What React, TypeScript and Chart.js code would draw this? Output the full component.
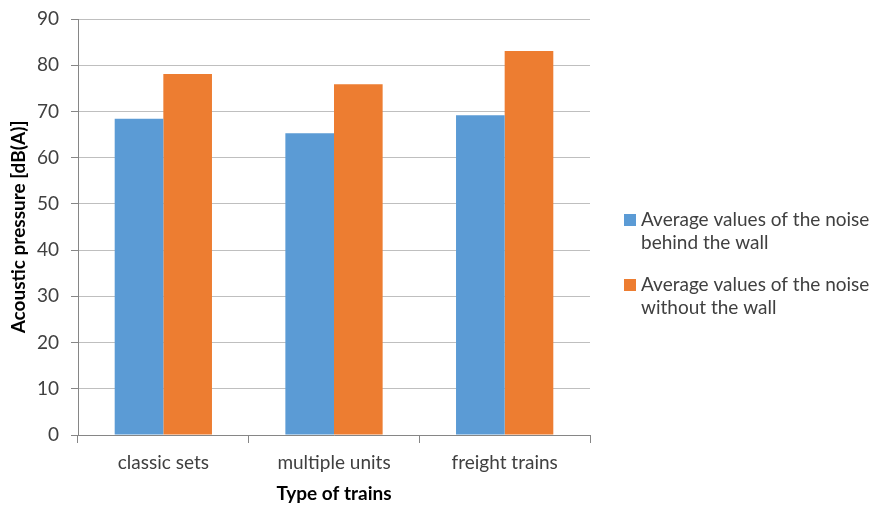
import React, { useEffect, useRef } from "react";
import { Chart, registerables } from "chart.js";

Chart.register(...registerables);

const categories = ["classic sets", "multiple units", "freight trains"];
const behindWall = [68.4, 65.3, 69.2];
const withoutWall = [78.1, 75.9, 83.1];
const seriesLabels = [
  ["Average values of the noise", "behind the wall"],
  ["Average values of the noise", "without the wall"],
];
const seriesColors = ["#5B9BD5", "#ED7D31"];

const FONT = "Lato, 'Open Sans', sans-serif";
const SIZE = 19;

// Legend to the right of the plot, with two-line labels
const sideLegend = {
  id: "sideLegend",
  afterDraw(chart: any) {
    const ctx = chart.ctx;
    ctx.save();
    ctx.font = `${SIZE}px ${FONT}`;
    ctx.textBaseline = "middle";
    ctx.textAlign = "left";
    const x = 624;
    const starts = [220, 285];
    seriesLabels.forEach((lines, i) => {
      const y0 = starts[i];
      ctx.fillStyle = seriesColors[i];
      ctx.fillRect(x, y0 - 6, 12, 12);
      ctx.fillStyle = "#404040";
      lines.forEach((t, j) => ctx.fillText(t, x + 17, y0 + j * 23));
    });
    ctx.restore();
  },
};

export default function App() {
  const ref = useRef<HTMLCanvasElement>(null);

  useEffect(() => {
    document.body.style.margin = "0";
    const chart = new Chart(ref.current!, {
      type: "bar",
      data: {
        labels: categories,
        datasets: [
          {
            label: seriesLabels[0].join(" "),
            data: behindWall,
            backgroundColor: seriesColors[0],
            categoryPercentage: 0.57,
            barPercentage: 1,
          },
          {
            label: seriesLabels[1].join(" "),
            data: withoutWall,
            backgroundColor: seriesColors[1],
            categoryPercentage: 0.57,
            barPercentage: 1,
          },
        ],
      },
      options: {
        animation: false,
        responsive: false,
        layout: { padding: { top: 19, right: 289, bottom: 0, left: 0 } },
        plugins: {
          legend: { display: false },
          tooltip: { enabled: false },
        },
        scales: {
          x: {
            grid: {
              display: true,
              drawOnChartArea: false,
              color: "#868686",
              tickLength: 8,
            },
            border: { color: "#868686" },
            ticks: {
              color: "#404040",
              font: { family: FONT, size: SIZE },
              padding: 8,
            },
            title: {
              display: true,
              text: "Type of trains",
              color: "#000000",
              font: { family: FONT, size: SIZE, weight: "bold" },
              padding: { top: 0, bottom: 1 },
            },
            afterFit: (s: any) => {
              s.height = 71;
              s.paddingLeft = 0;
              s.paddingRight = 0;
            },
          },
          y: {
            min: 0,
            max: 90,
            ticks: {
              stepSize: 10,
              color: "#404040",
              font: { family: FONT, size: SIZE },
              padding: 12,
            },
            grid: {
              color: "#BFBFBF",
              tickColor: "#868686",
              tickLength: 7,
            },
            border: { color: "#868686" },
            title: {
              display: true,
              text: "Acoustic pressure [dB(A)]",
              color: "#000000",
              font: { family: FONT, size: SIZE, weight: "bold" },
              padding: { top: 7, bottom: 0 },
            },
            afterFit: (s: any) => {
              s.width = 78;
              s.paddingTop = 0;
              s.paddingBottom = 0;
            },
          },
        },
      },
      plugins: [sideLegend],
    });
    return () => chart.destroy();
  }, []);

  return (
    <div style={{ position: "absolute", left: 0, top: 0, width: 879, height: 506, background: "#fff" }}>
      <canvas ref={ref} width={879} height={506} />
    </div>
  );
}
